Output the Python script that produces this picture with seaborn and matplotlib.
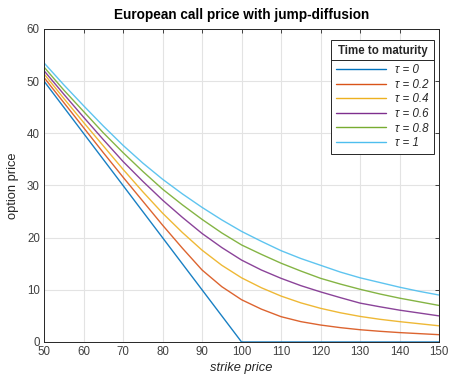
import numpy as np
import pandas as pd
import seaborn as sns
import matplotlib
matplotlib.use("Agg")
import matplotlib.pyplot as plt
from matplotlib.lines import Line2D

# Strike grid and option prices for each time to maturity
strikes = [50, 55, 60, 65, 70, 75, 80, 85, 90, 95, 100, 105, 110, 115, 120, 125, 130, 135, 140, 145, 150]
price_tau_0 = [50, 45, 40, 35, 30, 25, 20, 15, 10, 5, 0, 0, 0, 0, 0, 0, 0, 0, 0, 0, 0]
price_tau_02 = [50.7, 45.9, 41.1, 36.3, 31.6, 27.0, 22.4, 18.0, 13.8, 10.6, 8.1, 6.3, 4.85, 3.9, 3.25, 2.75, 2.35, 2.05, 1.8, 1.6, 1.4]
price_tau_04 = [51.4, 46.7, 42.1, 37.6, 33.1, 28.8, 24.7, 21.0, 17.6, 14.7, 12.3, 10.4, 8.8, 7.5, 6.45, 5.6, 4.9, 4.35, 3.9, 3.5, 3.1]
price_tau_06 = [52.0, 47.5, 43.1, 38.8, 34.6, 30.8, 27.2, 23.9, 20.8, 18.1, 15.7, 13.8, 12.2, 10.8, 9.6, 8.5, 7.45, 6.75, 6.1, 5.55, 5.0]
price_tau_08 = [52.7, 48.3, 44.2, 40.1, 36.3, 32.7, 29.3, 26.3, 23.5, 20.9, 18.6, 16.8, 15.1, 13.6, 12.2, 11.1, 10.1, 9.2, 8.4, 7.7, 7.0]
price_tau_1 = [53.5, 49.3, 45.3, 41.4, 37.7, 34.3, 31.2, 28.4, 25.8, 23.4, 21.2, 19.3, 17.5, 16.0, 14.7, 13.4, 12.3, 11.4, 10.5, 9.7, 9.0]

maturities = ["0", "0.2", "0.4", "0.6", "0.8", "1"]
series = [price_tau_0, price_tau_02, price_tau_04, price_tau_06, price_tau_08, price_tau_1]
colors = ["#0072BD", "#D95319", "#EDB120", "#7E2F8E", "#77AC30", "#4DBEEE"]

rows = []
for tau, vals in zip(maturities, series):
    for k, v in zip(strikes, vals):
        rows.append({"strike": k, "price": v, "tau": tau})
df = pd.DataFrame(rows)

sns.set_theme(style="white")
plt.rcParams["font.family"] = ["Liberation Sans", "DejaVu Sans"]

fig = plt.figure(figsize=(4.49, 3.81), dpi=100)
ax = fig.add_axes([0.098, 0.1024, 0.880, 0.8216])

sns.lineplot(data=df, x="strike", y="price", hue="tau", hue_order=maturities,
             palette=colors, linewidth=1.0, alpha=0.9, legend=False, ax=ax)

ax.set_xlim(50, 150)
ax.set_ylim(0, 60)
ax.set_xticks(np.arange(50, 151, 10))
ax.set_yticks(np.arange(0, 61, 10))
ax.grid(True, color="#e3e3e3", linewidth=0.8)
ax.set_axisbelow(True)
ax.tick_params(axis="both", which="both", direction="in", length=3, width=0.6,
               colors="#262626", labelsize=8.3, top=True, right=True,
               labelcolor="#404040", pad=3)
for sp in ax.spines.values():
    sp.set_color("#262626")
    sp.set_linewidth(0.7)

ax.set_title("European call price with jump-diffusion", fontsize=9.8,
             fontweight="bold", color="black", pad=7)
ax.set_xlabel("strike price", fontsize=9.3, fontstyle="italic", color="#262626", labelpad=3)
ax.set_ylabel("option price", fontsize=9.3, color="#262626", labelpad=6)

handles = [Line2D([0], [0], color=c, linewidth=1.0) for c in colors]
labels = [f"τ = {t}" for t in maturities]
leg = ax.legend(handles, labels, title="Time to maturity", loc="upper right",
                bbox_to_anchor=(0.995, 0.975), frameon=True, fancybox=False,
                framealpha=1, edgecolor="#262626", prop={"size": 8.3, "style": "italic"},
                title_fontproperties={"size": 8.3, "weight": "bold"},
                handlelength=4.3, handletextpad=0.8, labelspacing=0.22,
                borderpad=0.45, borderaxespad=0.3)
leg.get_frame().set_linewidth(0.7)
# gap between the legend title and its entries
leg._legend_box.sep = 5

# Separator under the legend title
fig.canvas.draw()
renderer = fig.canvas.get_renderer()
fr = leg.get_frame().get_window_extent(renderer)
tt = leg.get_title().get_window_extent(renderer)
y_sep = tt.y0 - 2.5
inv = fig.transFigure.inverted()
(x0, ys), (x1, _) = inv.transform([(fr.x0, y_sep), (fr.x1, y_sep)])
fig.add_artist(Line2D([x0, x1], [ys, ys], color="#262626", linewidth=0.7))

fig.savefig("out.png", dpi=100)
